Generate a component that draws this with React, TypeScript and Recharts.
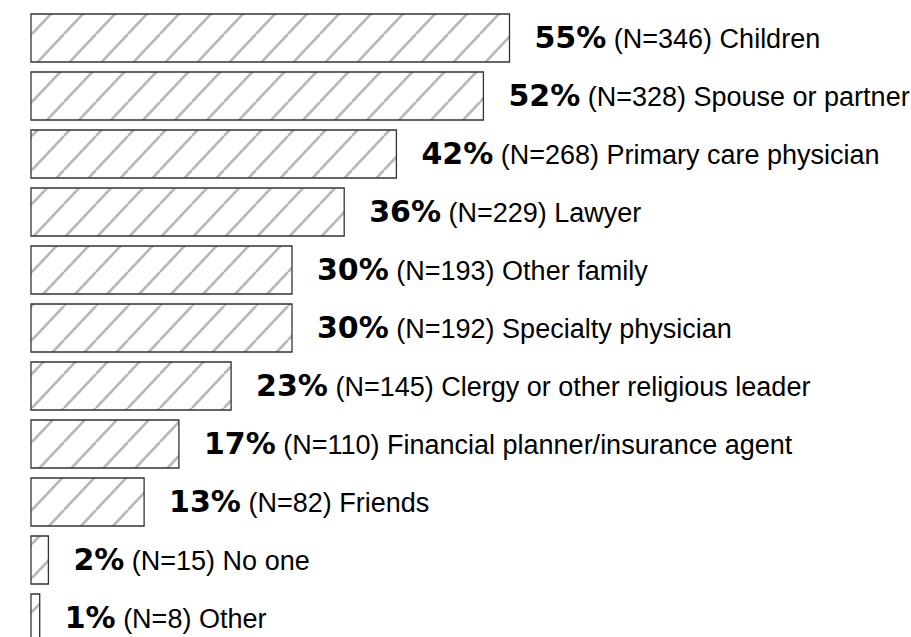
import React from 'react';
import { BarChart, Bar, XAxis, YAxis, LabelList } from 'recharts';

const categories = [
  'Children',
  'Spouse or partner',
  'Primary care physician',
  'Lawyer',
  'Other family',
  'Specialty physician',
  'Clergy or other religious leader',
  'Financial planner/insurance agent',
  'Friends',
  'No one',
  'Other',
];
const percents = [55, 52, 42, 36, 30, 30, 23, 17, 13, 2, 1];
const counts = [346, 328, 268, 229, 193, 192, 145, 110, 82, 15, 8];

const data = categories.map((name, i) => ({ name, pct: percents[i], n: counts[i] }));

// label drawn to the right of each bar: bold percent + plain count/name
const renderLabel = (props: any) => {
  const { x, y, width, height, value } = props;
  const row = data.find((d) => d.name === value);
  if (!row) return null;
  return (
    <text x={x + width + 25} y={y + height / 2 + 10} fill="#000">
      <tspan fontFamily="DejaVu Sans" fontWeight="bold" fontSize={30}>
        {row.pct}%
      </tspan>
      <tspan fontFamily="Liberation Sans" fontSize={27}>
        {` (N=${row.n}) ${row.name}`}
      </tspan>
    </text>
  );
};

const App: React.FC = () => {
  return (
    <div style={{ position: 'absolute', left: 0, top: 0, width: 911, height: 637, overflow: 'hidden', background: '#fff' }}>
      <BarChart
        width={911}
        height={648}
        data={data}
        layout="vertical"
        margin={{ top: 9, right: 10, bottom: 1, left: 31 }}
        barCategoryGap={5}
      >
        <defs>
          <pattern id="hatch" patternUnits="userSpaceOnUse" width={32} height={34}>
            <rect width={32} height={34} fill="#fff" />
            <path
              d="M-32,34 L0,0 M0,34 L32,0 M32,34 L64,0"
              stroke="#b8b8b8"
              strokeWidth={2.6}
            />
          </pattern>
        </defs>
        <XAxis type="number" domain={[0, 100]} hide />
        <YAxis type="category" dataKey="name" hide />
        <Bar dataKey="pct" fill="url(#hatch)" stroke="#333" strokeWidth={1.3} isAnimationActive={false}>
          <LabelList dataKey="name" content={renderLabel} />
        </Bar>
      </BarChart>
    </div>
  );
};

export default App;
